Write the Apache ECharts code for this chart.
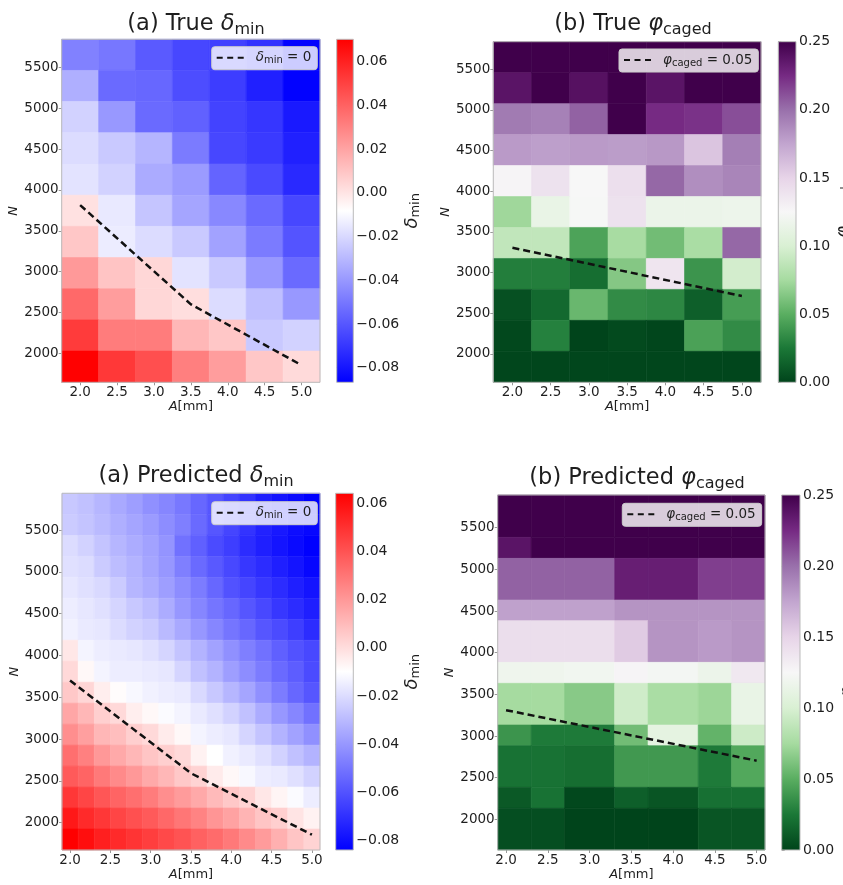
<!DOCTYPE html>
<html>
<head>
<meta charset="utf-8">
<title>True and predicted delta_min / phi_caged</title>
<script src="https://cdn.jsdelivr.net/npm/echarts@6.0.0/dist/echarts.min.js"></script>
<style>
html, body { margin: 0; padding: 0; background: #fff; }
#chart { width: 843px; height: 885px; }
</style>
</head>
<body>
<div id="chart"></div>
<script>
// ---- bin edges (A in mm, N) ----
const aEdgesTrue = [1.75, 2.25, 2.75, 3.25, 3.75, 4.25, 4.75, 5.25];
const nEdgesTrueDelta = [1645, 2027, 2409, 2791, 3173, 3555, 3936, 4318, 4700, 5082, 5464, 5845];
const nEdgesTruePhi = [1652, 2032, 2413, 2793, 3173, 3554, 3934, 4314, 4695, 5075, 5455, 5836];
const aEdgesPredDelta = [1.9, 2.1, 2.3, 2.5, 2.7, 2.9, 3.1, 3.3, 3.5, 3.7, 3.9, 4.1, 4.3, 4.5, 4.7, 4.9, 5.1];
const nEdgesPredDelta = [1672, 1923, 2174, 2425, 2676, 2927, 3178, 3429, 3680, 3931, 4182, 4433, 4684, 4935, 5186, 5437, 5688, 5940];
const aEdgesPredPhi = [1.9, 2.3, 2.7, 3.3, 3.7, 4.3, 4.7, 5.1];
const nEdgesPredPhi = [1632, 2132, 2384, 2884, 3132, 3632, 3884, 4384, 4632, 5132, 5384, 5892];

// ---- tick labels ----
const aTicks = [2.0, 2.5, 3.0, 3.5, 4.0, 4.5, 5.0];
const nTicks = [2000, 2500, 3000, 3500, 4000, 4500, 5000, 5500];
const deltaTicks = [-0.08, -0.06, -0.04, -0.02, 0, 0.02, 0.04, 0.06];
const phiTicks = [0, 0.05, 0.1, 0.15, 0.2, 0.25];

// ---- cell values, rows from top (large N) to bottom (small N) ----
const deltaTrue = [
  [-0.047, -0.050, -0.059, -0.065, -0.067, -0.072, -0.086],
  [-0.033, -0.054, -0.055, -0.063, -0.068, -0.077, -0.086],
  [-0.022, -0.040, -0.054, -0.057, -0.066, -0.070, -0.079],
  [-0.019, -0.025, -0.031, -0.049, -0.065, -0.069, -0.077],
  [-0.017, -0.022, -0.034, -0.039, -0.056, -0.064, -0.074],
  [0.001, -0.015, -0.026, -0.036, -0.045, -0.054, -0.065],
  [0.009, -0.014, -0.019, -0.025, -0.037, -0.049, -0.061],
  [0.023, 0.010, 0.004, -0.017, -0.025, -0.040, -0.054],
  [0.038, 0.022, 0.004, 0.002, -0.019, -0.028, -0.040],
  [0.052, 0.032, 0.032, 0.014, 0.009, -0.025, -0.022],
  [0.070, 0.053, 0.046, 0.031, 0.022, 0.009, 0.003]
];
const phiTrue = [
  [0.25, 0.25, 0.25, 0.25, 0.25, 0.25, 0.25],
  [0.238, 0.25, 0.24, 0.25, 0.238, 0.25, 0.25],
  [0.195, 0.192, 0.205, 0.25, 0.225, 0.222, 0.212],
  [0.18, 0.178, 0.18, 0.179, 0.181, 0.158, 0.193],
  [0.127, 0.14, 0.125, 0.142, 0.203, 0.186, 0.19],
  [0.073, 0.113, 0.124, 0.14, 0.115, 0.115, 0.117],
  [0.088, 0.088, 0.045, 0.076, 0.058, 0.077, 0.203],
  [0.028, 0.028, 0.02, 0.064, 0.138, 0.038, 0.097],
  [0.006, 0.018, 0.055, 0.034, 0.032, 0.013, 0.042],
  [0.002, 0.029, 0.0, 0.003, 0.001, 0.044, 0.034],
  [0.001, 0.001, 0.001, 0.001, 0.001, 0.001, 0.001]
];
const deltaPred = [
  [-0.026, -0.028, -0.031, -0.035, -0.038, -0.042, -0.045, -0.049, -0.054, -0.059, -0.064, -0.069, -0.075, -0.078, -0.081, -0.084],
  [-0.025, -0.027, -0.030, -0.033, -0.036, -0.039, -0.043, -0.047, -0.053, -0.059, -0.064, -0.069, -0.074, -0.077, -0.080, -0.082],
  [-0.020, -0.023, -0.027, -0.031, -0.034, -0.037, -0.041, -0.051, -0.056, -0.062, -0.066, -0.071, -0.075, -0.078, -0.081, -0.084],
  [-0.019, -0.020, -0.025, -0.029, -0.032, -0.036, -0.040, -0.047, -0.053, -0.058, -0.063, -0.068, -0.071, -0.075, -0.078, -0.082],
  [-0.017, -0.019, -0.021, -0.025, -0.031, -0.034, -0.038, -0.043, -0.048, -0.054, -0.060, -0.064, -0.068, -0.071, -0.075, -0.078],
  [-0.015, -0.017, -0.019, -0.022, -0.026, -0.029, -0.034, -0.040, -0.045, -0.050, -0.054, -0.059, -0.063, -0.068, -0.071, -0.075],
  [-0.014, -0.016, -0.017, -0.020, -0.023, -0.025, -0.030, -0.035, -0.040, -0.045, -0.050, -0.054, -0.059, -0.062, -0.066, -0.071],
  [-0.003, -0.013, -0.015, -0.016, -0.017, -0.019, -0.022, -0.027, -0.032, -0.037, -0.042, -0.047, -0.051, -0.056, -0.060, -0.063],
  [0.001, -0.008, -0.013, -0.015, -0.015, -0.016, -0.017, -0.022, -0.028, -0.032, -0.038, -0.043, -0.048, -0.053, -0.057, -0.062],
  [0.006, 0.002, -0.005, -0.009, -0.012, -0.014, -0.015, -0.016, -0.021, -0.026, -0.031, -0.036, -0.042, -0.048, -0.054, -0.059],
  [0.016, 0.011, 0.004, 0.001, -0.005, -0.008, -0.011, -0.013, -0.016, -0.019, -0.023, -0.028, -0.034, -0.040, -0.045, -0.051],
  [0.023, 0.018, 0.011, 0.009, 0.004, 0.001, -0.004, -0.008, -0.013, -0.015, -0.017, -0.022, -0.027, -0.032, -0.037, -0.042],
  [0.032, 0.027, 0.020, 0.015, 0.011, 0.007, 0.004, 0.001, -0.006, -0.010, -0.014, -0.016, -0.019, -0.023, -0.028, -0.032],
  [0.038, 0.035, 0.029, 0.024, 0.020, 0.015, 0.011, 0.006, 0.003, -0.004, -0.008, -0.012, -0.015, -0.016, -0.019, -0.023],
  [0.048, 0.044, 0.039, 0.035, 0.032, 0.028, 0.023, 0.019, 0.015, 0.010, 0.006, 0.003, -0.003, -0.007, -0.011, -0.015],
  [0.057, 0.052, 0.048, 0.044, 0.041, 0.038, 0.034, 0.030, 0.026, 0.021, 0.017, 0.012, 0.007, 0.004, -0.002, -0.006],
  [0.064, 0.060, 0.055, 0.052, 0.049, 0.046, 0.043, 0.040, 0.036, 0.033, 0.029, 0.024, 0.019, 0.013, 0.007, 0.003]
];
const phiPred = [
  [0.25, 0.25, 0.25, 0.25, 0.25, 0.25, 0.25],
  [0.238, 0.25, 0.25, 0.25, 0.25, 0.25, 0.25],
  [0.205, 0.205, 0.205, 0.232, 0.232, 0.218, 0.218],
  [0.177, 0.177, 0.177, 0.183, 0.183, 0.183, 0.183],
  [0.143, 0.143, 0.143, 0.155, 0.183, 0.18, 0.183],
  [0.118, 0.118, 0.12, 0.127, 0.122, 0.116, 0.136],
  [0.075, 0.075, 0.065, 0.095, 0.077, 0.072, 0.113],
  [0.038, 0.026, 0.026, 0.058, 0.11, 0.053, 0.094],
  [0.022, 0.022, 0.02, 0.04, 0.04, 0.026, 0.047],
  [0.01, 0.022, 0.002, 0.013, 0.008, 0.021, 0.021],
  [0.005, 0.005, 0.0, 0.0, 0.0, 0.008, 0.008]
];

// ---- boundary curves [A, N] ----
const deltaZeroTrue = [[2.0, 3815], [3.5, 2600], [5.0, 1855]];
const phiLevelTrue = [[2.0, 3305], [5.0, 2712]];
const deltaZeroPred = [[2.0, 3700], [3.5, 2590], [5.0, 1855]];
const phiLevelPred = [[2.0, 3310], [5.0, 2704]];

// colormaps: bwr and PRGn_r
const bwr = ['#0000ff', '#ffffff', '#ff0000'];
const prgnR = ['#00441b', '#1b7837', '#5aae61', '#a6dba0', '#d9f0d3', '#f7f7f7', '#e7d4e8', '#c2a5cf', '#9970ab', '#762a83', '#40004b'];

const FONT = 'DejaVu Sans';
const TXT = '#1e1e1e';
// three dashes, like a matplotlib '--' legend handle
const DASH_ICON = 'path://M0,0h6v2h-6z M10.5,0h6v2h-6z M21,0h6v2h-6z';

const panels = [
  {
    title: '(a) True {d|δ}{s|min}', titlePos: [191, 6],
    aEdges: aEdgesTrue, nEdges: nEdgesTrueDelta, values: deltaTrue,
    range: [-0.0867, 0.0702], colors: bwr, cTicks: deltaTicks,
    cName: '{d|δ}{s|min}', cNameGap: 44, line: deltaZeroTrue, legendText: '{d|δ}{s|min}{t| = 0}',
    grid: [61.7, 39.3, 258.3, 343], cbar: [336.7, 39.3, 16.6, 343], legendPos: [211.7, 46.7]
  },
  {
    title: '(b) True {d|φ}{s|caged}', titlePos: [628, 6],
    aEdges: aEdgesTrue, nEdges: nEdgesTruePhi, values: phiTrue,
    range: [0, 0.25], colors: prgnR, cTicks: phiTicks,
    cName: '{d|φ}{s|caged}', cNameGap: 32, line: phiLevelTrue, legendText: '{d|φ}{s|caged}{t| = 0.05}',
    grid: [493.3, 41.7, 267.7, 340.6], cbar: [778.3, 41.7, 17.7, 340.6], legendPos: [619, 49]
  },
  {
    title: '(a) Predicted {d|δ}{s|min}', titlePos: [191, 458],
    aEdges: aEdgesPredDelta, nEdges: nEdgesPredDelta, values: deltaPred,
    range: [-0.0839, 0.0641], colors: bwr, cTicks: deltaTicks,
    cName: '{d|δ}{s|min}', cNameGap: 44, line: deltaZeroPred, legendText: '{d|δ}{s|min}{t| = 0}',
    grid: [62, 493.3, 258, 356.7], cbar: [335.7, 493.3, 17.6, 356.7], legendPos: [211.7, 501.7]
  },
  {
    title: '(b) Predicted {d|φ}{s|caged}', titlePos: [632, 460],
    aEdges: aEdgesPredPhi, nEdges: nEdgesPredPhi, values: phiPred,
    range: [0, 0.25], colors: prgnR, cTicks: phiTicks,
    cName: '{d|φ}{s|caged}', cNameGap: 30, line: phiLevelPred, legendText: '{d|φ}{s|caged}{t| = 0.05}',
    grid: [497.7, 495, 267.3, 355], cbar: [781.7, 495, 18.3, 355], legendPos: [622.3, 503.3]
  }
];

function cells (aEdges, nEdges, rowsTopDown) {
  const out = [];
  const nr = rowsTopDown.length;
  rowsTopDown.forEach((row, i) => {
    const j = nr - 1 - i;
    row.forEach((v, k) => {
      out.push([aEdges[k], aEdges[k + 1], nEdges[j], nEdges[j + 1], v]);
    });
  });
  return out;
}

function renderCell (params, api) {
  const p0 = api.coord([api.value(0), api.value(2)]);
  const p1 = api.coord([api.value(1), api.value(3)]);
  const color = api.visual('color');
  return {
    type: 'rect',
    shape: { x: p0[0], y: p1[1], width: p1[0] - p0[0], height: p0[1] - p1[1] },
    style: { fill: color, stroke: color, lineWidth: 0.6 }
  };
}

function renderBar (colors) {
  return function (params, api) {
    const p0 = api.coord([api.value(0), api.value(2)]);
    const p1 = api.coord([api.value(1), api.value(3)]);
    const stops = colors.map((c, i) => ({ offset: i / (colors.length - 1), color: c }));
    return {
      type: 'rect',
      shape: { x: p0[0], y: p1[1], width: p1[0] - p0[0], height: p0[1] - p1[1] },
      style: { fill: new echarts.graphic.LinearGradient(0, 1, 0, 0, stops) }
    };
  };
}

function fmtSigned (v) {
  return (v < 0 ? '\u2212' : '') + Math.abs(v).toFixed(2);
}

function richSub (big, small, shift, lead) {
  return {
    d: { fontFamily: FONT, fontStyle: 'italic', fontSize: big, color: TXT, padding: [0, 0, 0, lead || 0] },
    s: { fontFamily: FONT, fontSize: small, color: TXT, padding: [shift, 0, 0, 0] },
    t: { fontFamily: FONT, fontSize: big, color: TXT }
  };
}

const option = {
  animation: false,
  backgroundColor: '#fff',
  title: [],
  legend: [],
  grid: [],
  xAxis: [],
  yAxis: [],
  visualMap: [],
  series: []
};

const heatSeries = [];
const barSeries = [];
const lineSeries = [];

panels.forEach((p, i) => {
  const g = i * 2;
  const lineName = 'boundary' + i;

  option.title.push({
    text: p.title,
    left: p.titlePos[0],
    top: p.titlePos[1],
    textAlign: 'center',
    textStyle: {
      fontFamily: FONT, fontSize: 22.5, fontWeight: 'normal', color: TXT,
      rich: richSub(22.5, 16, 11)
    }
  });

  option.legend.push({
    data: [{ name: lineName, icon: DASH_ICON }],
    left: p.legendPos[0],
    top: p.legendPos[1],
    itemWidth: 27,
    itemHeight: 2.5,
    padding: [4, 6, 4, 5],
    backgroundColor: 'rgba(255,255,255,0.8)',
    borderColor: '#cccccc',
    borderWidth: 1,
    borderRadius: 3,
    selectedMode: false,
    formatter: () => p.legendText,
    textStyle: { fontFamily: FONT, fontSize: 13.5, color: TXT, rich: richSub(13.5, 10, 6, 7) }
  });

  option.grid.push({
    left: p.grid[0], top: p.grid[1], width: p.grid[2], height: p.grid[3],
    show: true, borderColor: '#bbbbbb', borderWidth: 1, z: 3,
    outerBoundsMode: 'none'
  });
  option.grid.push({
    left: p.cbar[0], top: p.cbar[1], width: p.cbar[2], height: p.cbar[3],
    show: true, borderColor: '#bbbbbb', borderWidth: 1, z: 3,
    outerBoundsMode: 'none'
  });

  option.xAxis.push({
    type: 'value', gridIndex: g,
    min: p.aEdges[0], max: p.aEdges[p.aEdges.length - 1],
    name: '{i|A}[mm]', nameLocation: 'middle', nameGap: 16,
    nameTextStyle: {
      fontFamily: FONT, fontSize: 13, color: TXT,
      rich: { i: { fontFamily: FONT, fontSize: 13, fontStyle: 'italic', color: TXT } }
    },
    axisLine: { show: false },
    axisTick: { show: true, length: 3, lineStyle: { color: '#999' }, customValues: aTicks },
    axisLabel: { customValues: aTicks, formatter: v => v.toFixed(1), fontFamily: FONT, fontSize: 13.5, color: TXT, margin: 3 },
    splitLine: { show: false }
  });
  option.yAxis.push({
    type: 'value', gridIndex: g,
    min: p.nEdges[0], max: p.nEdges[p.nEdges.length - 1],
    name: 'N', nameLocation: 'middle', nameGap: 40,
    nameTextStyle: { fontFamily: FONT, fontSize: 13, fontStyle: 'italic', color: TXT },
    axisLine: { show: false },
    axisTick: { show: true, length: 3, lineStyle: { color: '#999' }, customValues: nTicks },
    axisLabel: { customValues: nTicks, formatter: v => String(v), fontFamily: FONT, fontSize: 13.5, color: TXT, margin: 3 },
    splitLine: { show: false }
  });

  // colorbar axes
  option.xAxis.push({ type: 'value', gridIndex: g + 1, min: 0, max: 1, show: false });
  option.yAxis.push({
    type: 'value', gridIndex: g + 1, position: 'right',
    min: p.range[0], max: p.range[1],
    name: p.cName, nameLocation: 'middle', nameGap: p.cNameGap,
    nameTextStyle: { fontFamily: FONT, fontSize: 18, color: TXT, rich: richSub(18, 13, 8) },
    axisLine: { show: false },
    axisTick: { show: true, length: 3, lineStyle: { color: '#999' }, customValues: p.cTicks },
    axisLabel: { customValues: p.cTicks, formatter: fmtSigned, fontFamily: FONT, fontSize: 14, color: TXT, margin: 3 },
    splitLine: { show: false }
  });

  heatSeries.push({
    type: 'custom',
    name: 'heat' + i,
    xAxisIndex: g, yAxisIndex: g,
    renderItem: renderCell,
    encode: { x: [0, 1], y: [2, 3] },
    data: cells(p.aEdges, p.nEdges, p.values),
    z: 1
  });
  barSeries.push({
    type: 'custom',
    name: 'cbar' + i,
    xAxisIndex: g + 1, yAxisIndex: g + 1,
    renderItem: renderBar(p.colors),
    encode: { x: [0, 1], y: [2, 3] },
    data: [[0, 1, p.range[0], p.range[1]]],
    z: 1
  });
  lineSeries.push({
    type: 'line',
    name: lineName,
    xAxisIndex: g, yAxisIndex: g,
    data: p.line,
    symbol: 'none',
    color: '#111',
    lineStyle: { color: '#111', width: 2.5, type: [7, 4] },
    z: 5
  });

  option.visualMap.push({
    type: 'continuous', show: false,
    seriesIndex: i, dimension: 4,
    min: p.range[0], max: p.range[1],
    inRange: { color: p.colors }
  });
});

option.series = heatSeries.concat(barSeries, lineSeries);

const myChart = echarts.init(document.getElementById('chart'));
myChart.setOption(option);
</script>
</body>
</html>
